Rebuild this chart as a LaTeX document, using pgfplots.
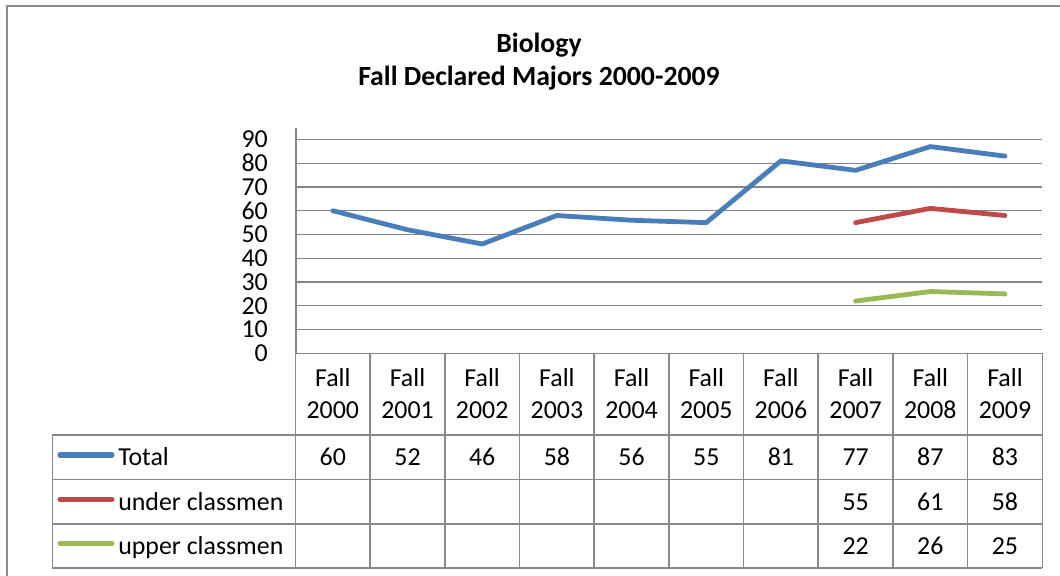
\documentclass[border=0pt]{standalone}
\usepackage{pgfplots}
\pgfplotsset{compat=1.18}
\usepackage{fontspec}
\setmainfont{Carlito}
\definecolor{cblue}{HTML}{4A7EBB}
\definecolor{cred}{HTML}{BE4B48}
\definecolor{cgreen}{HTML}{98B954}
\definecolor{gridgray}{HTML}{868686}
\definecolor{bordergray}{HTML}{898989}
\newcommand\tf{\fontsize{19.4}{23.7}\selectfont}
\begin{document}
\begin{tikzpicture}
\begin{scope}[x=0.75pt,y=-0.75pt]
\useasboundingbox (0,0) rectangle (1060,575);
\begin{scope}
\clip (0,0) rectangle (1060,575);
\draw[bordergray, line width=1.6pt] (7,600) -- (7,6) -- (1070,6);
\end{scope}
% title
\node[font=\bfseries\fontsize{20.8}{24}\selectfont, anchor=base, inner sep=0pt] at (539,52) {Biology};
\node[font=\bfseries\fontsize{20.8}{24}\selectfont, anchor=base, inner sep=0pt] at (539,85) {Fall Declared Majors 2000-2009};
% data table grid
\foreach \i in {0,...,10} {
  \draw[bordergray, line width=1.2pt] ({295.5+\i*74.68},353.3) -- ({295.5+\i*74.68},568);
}
\draw[bordergray, line width=1.2pt] (295.5,353.3) -- (1042.3,353.3);
\foreach \yy in {435,479.3,524,568} {
  \draw[bordergray, line width=1.2pt] (52.3,\yy) -- (1042.3,\yy);
}
\draw[bordergray, line width=1.2pt] (52.3,435) -- (52.3,568);
% legend keys and names
\draw[cblue, line width=3.8pt, line cap=round] (60,455) -- (112,455);
\draw[cred, line width=3.8pt, line cap=round] (60,499.3) -- (112,499.3);
\draw[cgreen, line width=3.8pt, line cap=round] (60,543.3) -- (112,543.3);
\node[font=\tf, anchor=base west, inner sep=0pt] at (118,465) {Total};
\node[font=\tf, anchor=base west, inner sep=0pt] at (118,510) {under classmen};
\node[font=\tf, anchor=base west, inner sep=0pt] at (118,554) {upper classmen};
% table values
\foreach \v [count=\k from 0] in {60,52,46,58,56,55,81,77,87,83} {
  \node[font=\tf, anchor=base, inner sep=0pt] at ({295.5+(\k+0.5)*74.68},465) {\v};
}
\foreach \v [count=\k from 7] in {55,61,58} {
  \node[font=\tf, anchor=base, inner sep=0pt] at ({295.5+(\k+0.5)*74.68},510) {\v};
}
\foreach \v [count=\k from 7] in {22,26,25} {
  \node[font=\tf, anchor=base, inner sep=0pt] at ({295.5+(\k+0.5)*74.68},554) {\v};
}
\end{scope}
\begin{axis}[
  at={(221.625pt,-264.975pt)}, anchor=south west,
  scale only axis, width=560.1pt, height=169pt,
  xmin=-0.5, xmax=9.5, ymin=0, ymax=94.84,
  clip=false,
  axis line style={draw=none},
  ymajorgrids, grid style={gridgray, line width=0.9pt},
  ytick={0,10,...,90},
  xtick={0,...,9},
  xticklabels={{Fall\\2000},{Fall\\2001},{Fall\\2002},{Fall\\2003},{Fall\\2004},{Fall\\2005},{Fall\\2006},{Fall\\2007},{Fall\\2008},{Fall\\2009}},
  major tick length=0pt, tick style={draw=none},
  /pgf/number format/assume math mode=true,
  yticklabel style={font=\tf, inner sep=0pt, anchor=east, xshift=-20.6pt},
  xticklabel style={font=\tf, align=center, inner sep=0pt, anchor=north, yshift=-11.2pt},
]
\draw[gridgray, line width=1.5pt] (axis cs:-0.5,0) -- (axis cs:-0.5,94.84);
\addplot[cblue, line width=3.6pt, line join=round, line cap=round] coordinates {(0,60)(1,52)(2,46)(3,58)(4,56)(5,55)(6,81)(7,77)(8,87)(9,83)};
\addplot[cred, line width=3.6pt, line join=round, line cap=round] coordinates {(7,55)(8,61)(9,58)};
\addplot[cgreen, line width=3.6pt, line join=round, line cap=round] coordinates {(7,22)(8,26)(9,25)};
\end{axis}
\end{tikzpicture}
\end{document}
